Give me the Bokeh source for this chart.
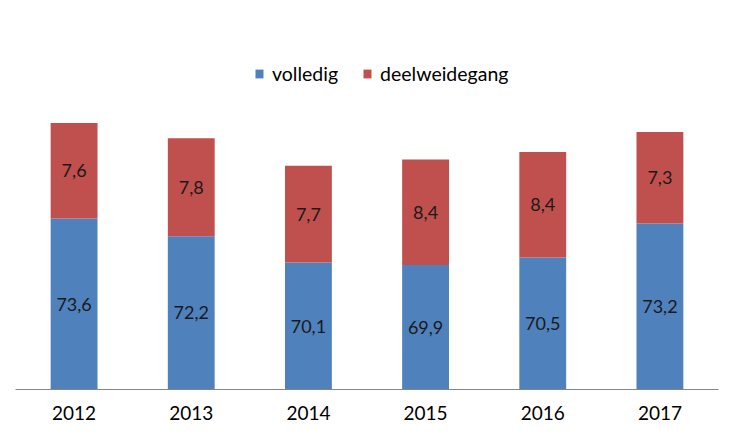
from bokeh.plotting import figure
from bokeh.models import ColumnDataSource, Legend, LegendItem, Range1d, FactorRange
from bokeh.core.properties import value
from bokeh.embed import file_html
from bokeh.resources import INLINE

years = ["2012", "2013", "2014", "2015", "2016", "2017"]
volledig = [73.6, 72.2, 70.1, 69.9, 70.5, 73.2]
deelweidegang = [7.6, 7.8, 7.7, 8.4, 8.4, 7.3]
series_names = ["volledig", "deelweidegang"]
colors = ["#4F81BD", "#C0504D"]

y_start, y_end = 60, 90

p = figure(x_range=FactorRange(*years, range_padding=0), y_range=Range1d(y_start, y_end),
           width=734, height=434, output_backend="svg", toolbar_location=None,
           min_border_left=15, min_border_right=16, min_border_top=12, min_border_bottom=45)
p.outline_line_color = None
p.background_fill_color = "white"
p.border_fill_color = "white"

src = ColumnDataSource(dict(
    years=years, volledig=volledig, deelweidegang=deelweidegang,
    lab_v=[f"{v:.1f}".replace(".", ",") for v in volledig],
    lab_d=[f"{v:.1f}".replace(".", ",") for v in deelweidegang],
    y_v=[(y_start + v) / 2 for v in volledig],
    y_d=[v + d / 2 for v, d in zip(volledig, deelweidegang)],
))

rs = p.vbar_stack(series_names, x="years", width=0.4, color=colors, line_color=None, source=src)

for ycol, lcol in (("y_v", "lab_v"), ("y_d", "lab_d")):
    p.text(x="years", y=ycol, text=lcol, source=src, text_align="center", text_baseline="middle",
           text_font=value("Lato"), text_font_size="18px", text_color="#1a1a1a")

legend = Legend(items=[LegendItem(label=n, renderers=[r]) for n, r in zip(series_names, rs)],
                orientation="horizontal", location=(239, 304),
                glyph_width=10, glyph_height=11, label_standoff=8, spacing=24,
                padding=0, margin=0, border_line_color=None, background_fill_alpha=0,
                label_text_font="Lato", label_text_font_size="19.5px", label_text_color="#000000")
p.add_layout(legend, "center")

p.yaxis.visible = False
p.xgrid.grid_line_color = None
p.ygrid.grid_line_color = None
p.xaxis.axis_line_color = "#868686"
p.xaxis.major_tick_line_color = None
p.xaxis.minor_tick_line_color = None
p.xaxis.major_label_standoff = 10
p.xaxis.major_label_text_font = "Lato"
p.xaxis.major_label_text_font_size = "19px"
p.xaxis.major_label_text_color = "#000000"

open("out.html", "w").write(file_html(p, INLINE))
